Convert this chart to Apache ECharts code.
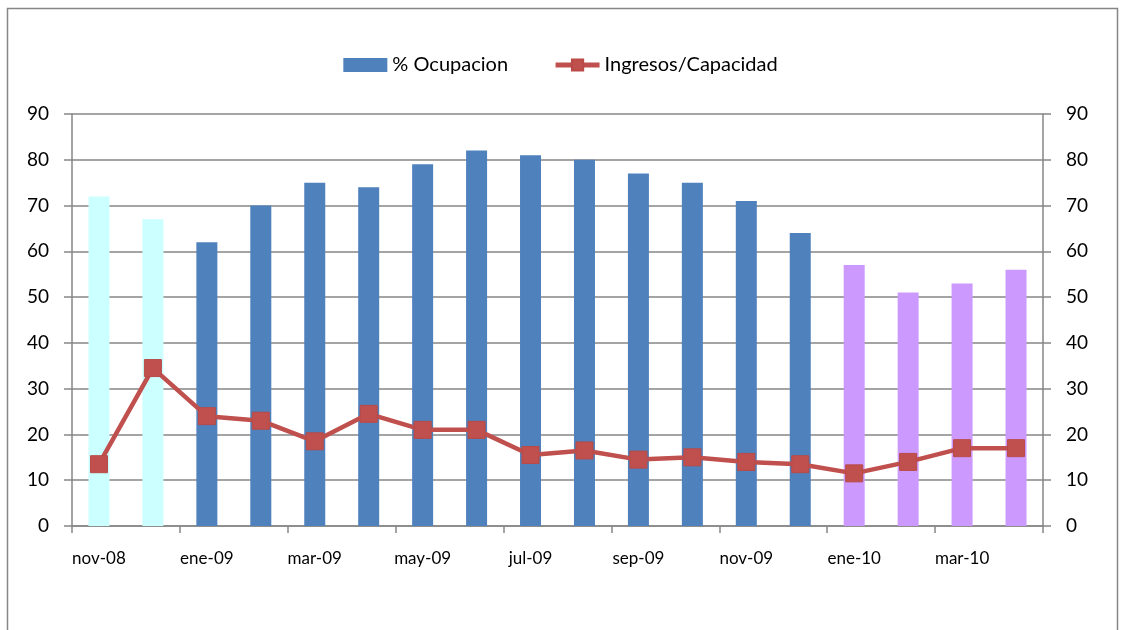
<!DOCTYPE html>
<html>
<head>
<meta charset="utf-8">
<script src="https://cdn.jsdelivr.net/npm/echarts@6/dist/echarts.min.js"></script>
<style>
  html, body { margin: 0; padding: 0; background: #fff; }
  #chart { width: 1121px; height: 630px; }
</style>
</head>
<body>
<div id="chart"></div>
<script>
const categories = ["nov-08", "dic-08", "ene-09", "feb-09", "mar-09", "abr-09", "may-09", "jun-09", "jul-09",
  "ago-09", "sep-09", "oct-09", "nov-09", "dic-09", "ene-10", "feb-10", "mar-10", "abr-10"];
const ocupacion = [72, 67, 62, 70, 75, 74, 79, 82, 81, 80, 77, 75, 71, 64, 57, 51, 53, 56];
const ingresosCapacidad = [13.5, 34.5, 24, 23, 18.5, 24.5, 21, 21, 15.5, 16.5, 14.5, 15, 14, 13.5, 11.5, 14, 17, 17];
const yTicks = [0, 10, 20, 30, 40, 50, 60, 70, 80, 90];

// bar colour depends on the period: 2008 light cyan, 2010 lilac, rest blue
function barColor(cat) {
  const yr = cat.slice(-2);
  if (yr === "08") return "#ccffff";
  if (yr === "10") return "#cc99ff";
  return "#4f81bd";
}

const font = "Lato, 'Open Sans', sans-serif";
const gridColor = "#868686";

const chart = echarts.init(document.getElementById("chart"));

const yAxisBase = {
  type: "value",
  min: yTicks[0],
  max: yTicks[yTicks.length - 1],
  interval: 10,
  axisLine: { show: true, lineStyle: { color: gridColor, width: 1.5 } },
  axisTick: { show: true, length: 8, lineStyle: { color: gridColor, width: 1.5 } },
  axisLabel: { color: "#000", fontSize: 19, fontFamily: font, margin: 23 },
};

chart.setOption({
  animation: false,
  graphic: [{
    type: "rect",
    shape: { x: 7.5, y: 8.5, width: 1110, height: 640 },
    style: { fill: null, stroke: "#868686", lineWidth: 1.5 },
    z: -1
  }],
  legend: {
    top: 50,
    left: "center",
    itemGap: 45,
    textStyle: { fontSize: 20, fontFamily: font, color: "#000" },
    data: [
      { name: "% Ocupacion", icon: "rect", itemStyle: { color: "#4f81bd" } },
      { name: "Ingresos/Capacidad", lineStyle: { width: 5, color: "#c0504d" } }
    ],
    itemWidth: 44,
    itemHeight: 14
  },
  grid: { left: 72, right: 78, top: 114, bottom: 104 },
  xAxis: {
    type: "category",
    data: categories,
    boundaryGap: true,
    axisLine: { lineStyle: { color: gridColor, width: 1.5 } },
    axisTick: { show: true, interval: 1, length: 7, lineStyle: { color: gridColor, width: 1.5 } },
    axisLabel: { interval: 1, color: "#000", fontSize: 17, fontFamily: font, margin: 24 },
    splitLine: { show: false }
  },
  yAxis: [
    Object.assign({}, yAxisBase, {
      position: "left",
      splitLine: { show: true, lineStyle: { color: gridColor, width: 1.5 } }
    }),
    Object.assign({}, yAxisBase, {
      position: "right",
      splitLine: { show: false }
    })
  ],
  series: [
    {
      name: "% Ocupacion",
      type: "bar",
      barWidth: 21,
      yAxisIndex: 0,
      data: ocupacion.map((v, i) => ({ value: v, itemStyle: { color: barColor(categories[i]) } }))
    },
    {
      name: "Ingresos/Capacidad",
      type: "line",
      yAxisIndex: 1,
      data: ingresosCapacidad,
      symbol: "rect",
      symbolSize: 17,
      lineStyle: { color: "#c0504d", width: 4.5 },
      itemStyle: { color: "#c0504d", borderColor: "#b94a47", borderWidth: 1 },
      z: 3
    }
  ]
});
</script>
</body>
</html>
